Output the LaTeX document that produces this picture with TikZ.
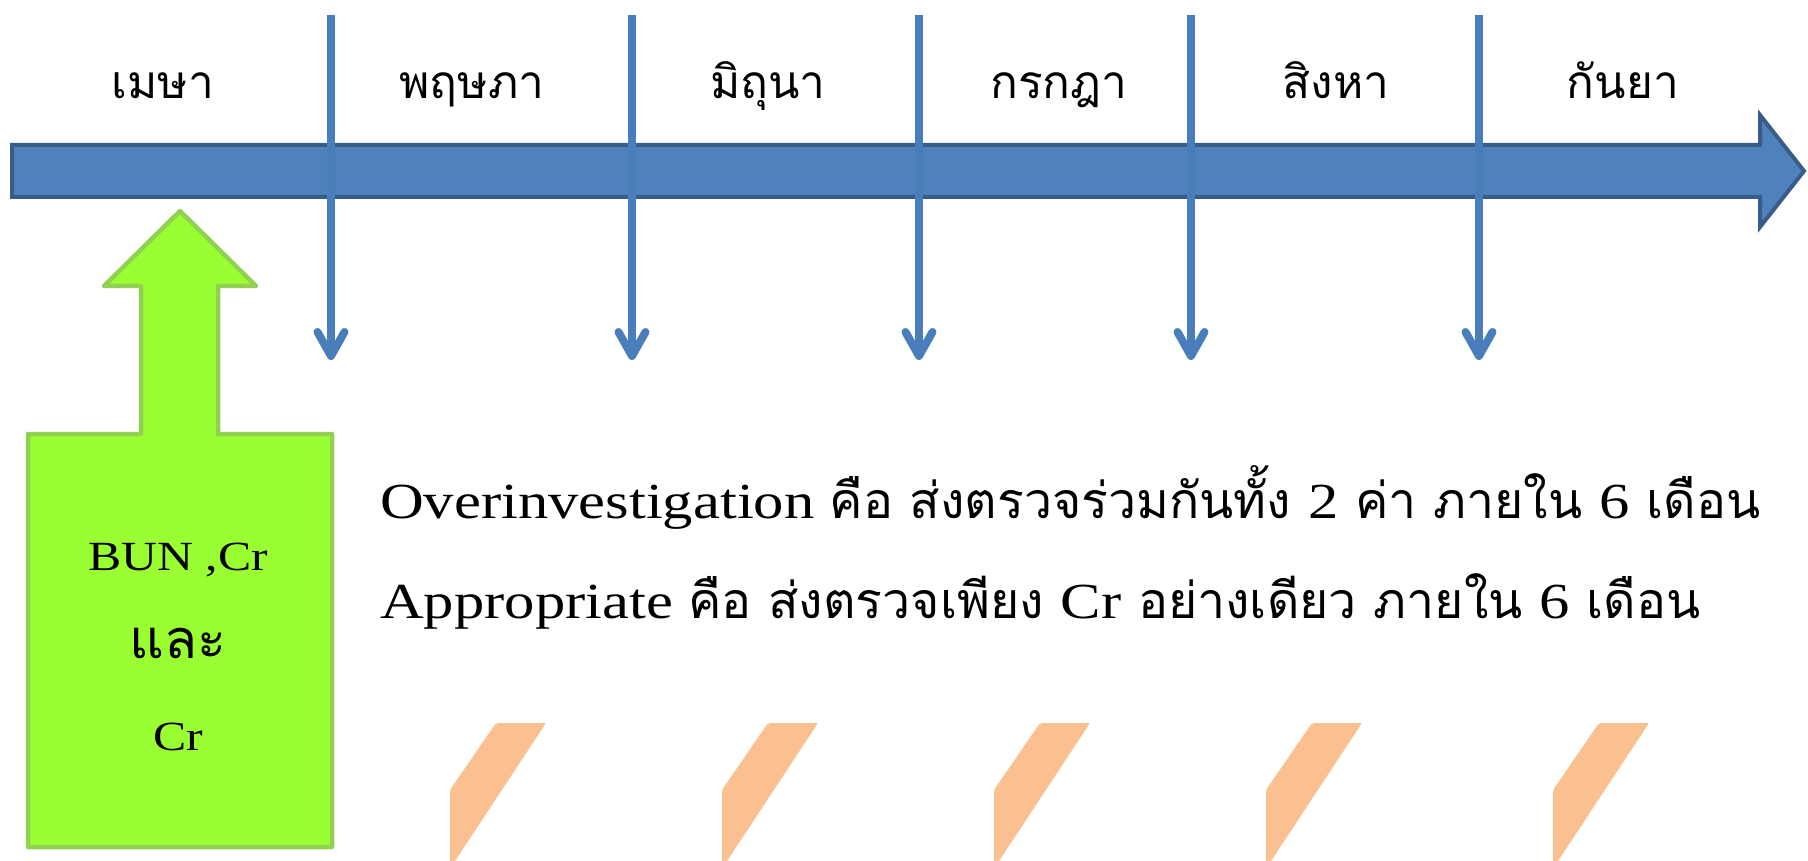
\documentclass[tikz,border=0pt]{standalone}
\usepackage{fontspec}
\setmainfont{Liberation Serif}
\newfontfamily\latin[FakeStretch=1.2]{Liberation Serif}
\newfontfamily\thai[Script=Thai]{Loma}
\definecolor{bfill}{HTML}{4F81BD}
\definecolor{bline}{HTML}{385D8A}
\definecolor{varrowc}{HTML}{4A7EBB}
\definecolor{gfill}{HTML}{99FF33}
\definecolor{gline}{HTML}{92D050}
\definecolor{ofill}{HTML}{FAC090}
\newcommand{\thbig}{\thai\fontsize{50}{56}\selectfont}
\tikzset{
  bigarrow/.style={fill=bfill,draw=bline,line width=4pt,line join=miter},
  vline/.style={draw=varrowc,line width=8pt},
  chev/.style={draw=varrowc,line width=8pt,line cap=round,line join=round},
  greenarrow/.style={fill=gfill,draw=gline,line width=4.5pt,line join=round},
  orangeshape/.style={fill=ofill,draw=none,rounded corners=2pt},
  month/.style={font=\thai\fontsize{46}{50}\selectfont,anchor=base},
  maintext/.style={anchor=base west,inner sep=0pt,font=\latin\fontsize{50.5}{56}\selectfont},
  gtext/.style={anchor=base,inner sep=0pt,font=\latin\fontsize{41.5}{46}\selectfont}
}
\begin{document}
\begin{tikzpicture}[x=1pt,y=-1pt]
\useasboundingbox (0,0) rectangle (1808,861);
% big timeline arrow
\draw[bigarrow] (12,145) -- (1760,145) -- (1760,115) -- (1804,171) -- (1760,227) -- (1760,197) -- (12,197) -- cycle;
% month labels
\node[month] (m1) at (163,99) {เมษา};
\node[month] (m2) at (472,99) {พฤษภา};
\node[month] (m3) at (768,99) {มิถุนา};
\node[month] (m4) at (1059,99) {กรกฎา};
\node[month] (m5) at (1336,99) {สิงหา};
\node[month] (m6) at (1623,99) {กันยา};
% vertical arrows
\foreach \i/\x in {1/331,2/632,3/919,4/1191,5/1479}{
  \coordinate (t\i) at (\x,15);
  \coordinate (b\i) at (\x,356);
  \draw[vline] (t\i) -- ([yshift=4pt]b\i);
  \draw[chev] ([xshift=-13.5pt,yshift=24pt]b\i) -- (b\i) -- ([xshift=13.5pt,yshift=24pt]b\i);
}
% green arrow
\draw[greenarrow] (28,847) -- (28,434) -- (141,434) -- (141,286) -- (104,286) -- (180,211) -- (256,286) -- (218,286) -- (218,434) -- (332,434) -- (332,847) -- cycle;
\node[gtext] (g1) at (178,570) {BUN ,Cr};
\node[gtext,font=\thai\fontsize{54}{58}\selectfont] (g2) at (178,658) {และ};
\node[gtext] (g3) at (178,750) {Cr};
% main text
\node[maintext] (l1) at (380,518) {Overinvestigation {\thbig คือ ส่งตรวจร่วมกันทั้ง }2{\thbig{} ค่า ภายใน }6{\thbig{} เดือน}};
\node[maintext] (l2) at (380,618) {Appropriate {\thbig คือ ส่งตรวจเพียง }Cr{\thbig{} อย่างเดียว ภายใน }6{\thbig{} เดือน}};
% orange shapes (cut by the page edge)
\begin{scope}
\clip (0,0) rectangle (1808,861);
\foreach \L in {450,722,994,1266,1553}{
  \fill[orangeshape] (\L,900) -- (\L,790) -- (\L+46,723) -- (\L+96,723) -- (\L+5,861) -- (\L+-21,900) -- cycle;
}
\end{scope}
\end{tikzpicture}
\end{document}
